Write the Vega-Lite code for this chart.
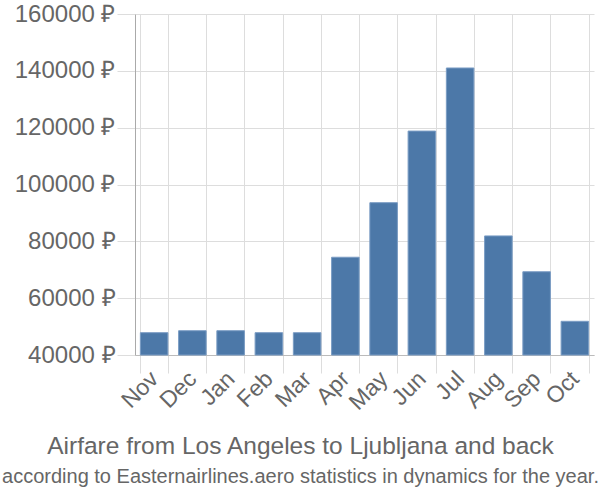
{
  "$schema": "https://vega.github.io/schema/vega-lite/v6.json",
  "width": 459,
  "height": 341,
  "autosize": "none",
  "padding": {"left": 135, "top": 14, "right": 6, "bottom": 145},
  "background": "white",
  "data": {"values": [
    {"month": "Nov", "price": 47850},
    {"month": "Dec", "price": 48550},
    {"month": "Jan", "price": 48550},
    {"month": "Feb", "price": 47850},
    {"month": "Mar", "price": 47850},
    {"month": "Apr", "price": 74400},
    {"month": "May", "price": 93600},
    {"month": "Jun", "price": 118800},
    {"month": "Jul", "price": 141000},
    {"month": "Aug", "price": 81900},
    {"month": "Sep", "price": 69300},
    {"month": "Oct", "price": 51860}
  ]},
  "title": {
    "text": "Airfare from Los Angeles to Ljubljana and back",
    "subtitle": "according to Easternairlines.aero statistics in dynamics for the year.",
    "orient": "bottom",
    "anchor": "middle",
    "frame": "group",
    "dx": -64,
    "font": "Liberation Sans",
    "fontSize": 24.5,
    "fontWeight": "normal",
    "color": "#666666",
    "subtitleFont": "Liberation Sans",
    "subtitleFontSize": 20,
    "subtitleColor": "#666666",
    "offset": 21,
    "subtitlePadding": 7
  },
  "mark": {"type": "bar", "color": "#4c78a8", "stroke": "#7a9cc4", "strokeWidth": 1},
  "encoding": {
    "x": {
      "field": "month", "type": "nominal", "sort": null,
      "scale": {"paddingInner": 0.28, "paddingOuter": 0.14},
      "axis": {
        "title": null, "labelAngle": -45, "labelAlign": "right", "labelBaseline": "middle",
        "labelFont": "Liberation Sans", "labelFontSize": 23, "labelColor": "#666666",
        "grid": true, "gridColor": "#dddddd", "gridWidth": 1, "bandPosition": 0,
        "tickSize": 18, "tickColor": "#dddddd", "tickBand": "extent",
        "domainColor": "#bbbbbb", "labelPadding": 2
      }
    },
    "y": {
      "field": "price", "type": "quantitative",
      "scale": {"domain": [40000, 160000], "nice": false, "zero": false},
      "axis": {
        "title": null, "values": [40000, 60000, 80000, 100000, 120000, 140000, 160000],
        "labelExpr": "datum.value + ' ₽'",
        "labelFont": "Liberation Sans", "labelFontSize": 24, "labelColor": "#666666",
        "gridColor": "#dddddd", "tickSize": 18, "tickColor": "#dddddd",
        "domainColor": "#aaaaaa", "labelPadding": 2
      }
    },
    "y2": {"datum": 40000}
  },
  "config": {"view": {"stroke": null}}
}
